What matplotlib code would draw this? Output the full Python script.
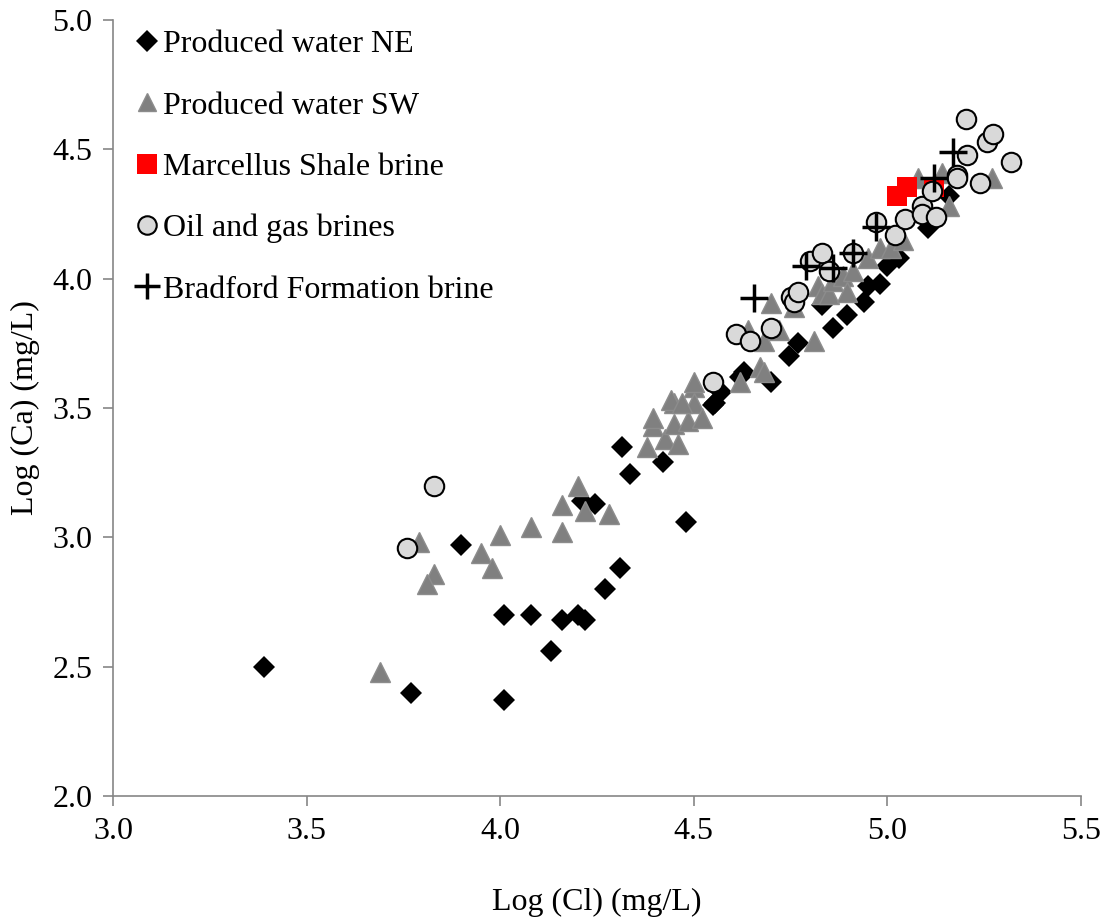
import matplotlib.pyplot as plt

plt.rcParams['font.family'] = ['Liberation Serif', 'DejaVu Serif']

# Produced water NE (log Cl, log Ca)
ne_cl = [3.39, 3.77, 4.01, 3.90, 4.01, 4.08, 4.13, 4.16, 4.20, 4.22, 4.27, 4.31,
         4.48, 4.315, 4.335, 4.42, 4.21, 4.245, 4.55, 4.555, 4.57, 4.62, 4.63,
         4.70, 4.745, 4.77, 4.83, 4.86, 4.895, 4.94, 4.95, 4.98, 5.00, 5.03,
         5.105, 5.16]
ne_ca = [2.50, 2.40, 2.37, 2.97, 2.70, 2.70, 2.56, 2.68, 2.70, 2.68, 2.80, 2.88,
         3.06, 3.35, 3.245, 3.29, 3.14, 3.13, 3.51, 3.52, 3.56, 3.62, 3.64,
         3.60, 3.70, 3.75, 3.90, 3.81, 3.86, 3.91, 3.97, 3.98, 4.05, 4.08,
         4.195, 4.32]

# Produced water SW
sw_cl = [3.69, 3.79, 3.83, 3.81, 4.00, 3.95, 3.98, 4.08, 4.16, 4.16, 4.20, 4.22,
         4.28, 4.38, 4.395, 4.425, 4.46, 4.45, 4.45, 4.485, 4.50, 4.50, 4.52,
         4.395, 4.44, 4.47, 4.50, 4.62, 4.67, 4.68, 4.64, 4.68, 4.72, 4.81,
         4.70, 4.76, 4.82, 4.83, 4.85, 4.86, 4.885, 4.895, 4.91, 4.95, 4.98,
         5.01, 5.04, 5.08, 5.14, 5.16, 5.27]
sw_ca = [2.48, 2.98, 2.86, 2.82, 3.01, 2.94, 2.88, 3.04, 3.02, 3.125, 3.20, 3.10,
         3.09, 3.35, 3.43, 3.38, 3.36, 3.52, 3.44, 3.45, 3.58, 3.52, 3.46,
         3.46, 3.53, 3.52, 3.60, 3.60, 3.66, 3.64, 3.80, 3.76, 3.80, 3.76,
         3.905, 3.89, 3.97, 3.94, 3.94, 3.99, 4.01, 3.95, 4.03, 4.08, 4.12,
         4.12, 4.15, 4.39, 4.41, 4.28, 4.39]

# Marcellus Shale brine
ms_cl = [5.025, 5.05, 5.12]
ms_ca = [4.32, 4.355, 4.355]

# Oil and gas brines
og_cl = [3.76, 3.83, 4.55, 4.61, 4.645, 4.70, 4.75, 4.76, 4.77, 4.80, 4.83, 4.85,
         4.91, 4.97, 5.02, 5.045, 5.09, 5.09, 5.115, 5.125, 5.18, 5.18, 5.24,
         5.205, 5.203, 5.257, 5.273, 5.319]
og_ca = [2.96, 3.20, 3.60, 3.785, 3.76, 3.81, 3.93, 3.91, 3.95, 4.07, 4.10, 4.03,
         4.10, 4.22, 4.17, 4.23, 4.28, 4.25, 4.34, 4.24, 4.40, 4.39, 4.37,
         4.48, 4.617, 4.53, 4.56, 4.45]

# Bradford Formation brine
bf_cl = [4.655, 4.79, 4.86, 4.91, 4.97, 5.12, 5.17]
bf_ca = [3.925, 4.05, 4.04, 4.10, 4.20, 4.39, 4.49]

fig = plt.figure(figsize=(11.1, 9.22), dpi=100)
ax = fig.add_axes([0.1018, 0.1367, 0.8721, 0.8416])

ax.plot(ne_cl, ne_ca, 'D', color='black', ms=11.5, mec='black', mew=0,
        linestyle='none', label='Produced water NE')
ax.plot(sw_cl, sw_ca, '^', color='#808080', ms=14, mec='#8c8c8c', mew=1,
        linestyle='none', label='Produced water SW')
ax.plot(ms_cl, ms_ca, 's', color='#ff0000', ms=14.5, mew=0,
        linestyle='none', label='Marcellus Shale brine')
ax.plot(og_cl, og_ca, 'o', color='#d9d9d9', ms=14, mec='black', mew=1.5,
        linestyle='none', label='Oil and gas brines')
ax.plot(bf_cl, bf_ca, '+', color='black', ms=20, mew=2.5,
        linestyle='none', label='Bradford Formation brine')

ax.set_xlim(3.0, 5.5)
ax.set_ylim(2.0, 5.0)
ax.set_xticks([3.0, 3.5, 4.0, 4.5, 5.0, 5.5])
ax.set_yticks([2.0, 2.5, 3.0, 3.5, 4.0, 4.5, 5.0])
ax.set_xticklabels(['3.0', '3.5', '4.0', '4.5', '5.0', '5.5'])
ax.set_yticklabels(['2.0', '2.5', '3.0', '3.5', '4.0', '4.5', '5.0'])

for side in ['top', 'right']:
    ax.spines[side].set_visible(False)
for side in ['left', 'bottom']:
    ax.spines[side].set_color('#868686')
    ax.spines[side].set_linewidth(1.2)
ax.tick_params(axis='both', direction='out', length=7, width=1.2,
               color='#868686', labelsize=23, labelcolor='black', pad=8)

ax.set_xlabel('Log (Cl) (mg/L)', fontsize=23, labelpad=30)
ax.set_ylabel('Log (Ca) (mg/L)', fontsize=23, labelpad=9)

ax.legend(loc='upper left', bbox_to_anchor=(0.0, 1.012), frameon=False,
          fontsize=23, handlelength=0.9, handletextpad=0.05, labelspacing=1.0,
          borderaxespad=0.2, numpoints=1, markerscale=0.95)

fig.savefig('out.png', dpi=100)
